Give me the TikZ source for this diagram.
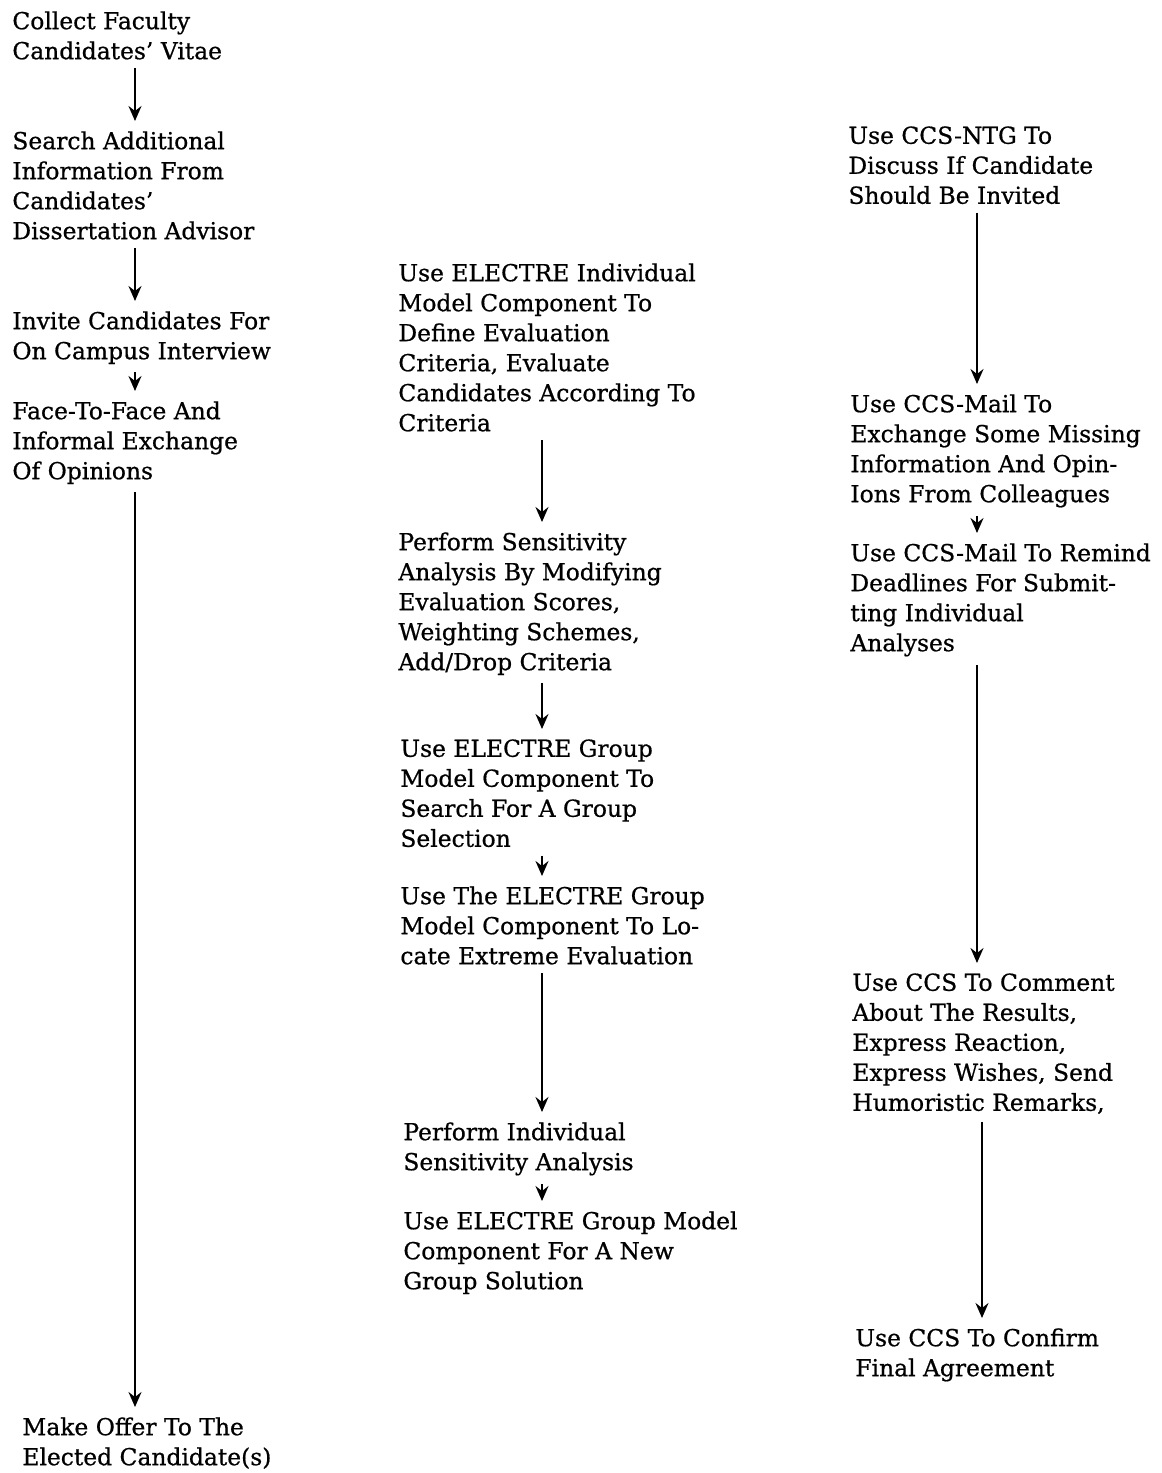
\documentclass[tikz,border=0pt]{standalone}
\usepackage{fontspec}
\setmainfont{DejaVu Serif}[FakeBold=0.7]
\usetikzlibrary{arrows.meta}
\begin{document}
\begin{tikzpicture}[x=0.5pt,y=-0.5pt,
  txt/.style={anchor=north west,align=left,inner sep=0pt,
    font=\fontsize{11.7pt}{15pt}\selectfont},
  arr/.style={line width=1pt,-{Stealth[length=7.5pt,width=6.5pt,inset=2.5pt]},
    shorten <=4pt, shorten >=5pt}]
\useasboundingbox (0,0) rectangle (1162,1473);
% column x positions
\coordinate (xa) at (135,0);
\coordinate (xb) at (542,0);
\coordinate (xc) at (977,0);
\coordinate (xd) at (982,0);
% column 1
\node[txt] (collect) at (12,11) {Collect Faculty\\Candidates' Vitae};
\node[txt] (search) at (12,131) {Search Additional\\Information From\\Candidates'\\Dissertation Advisor};
\node[txt] (invite) at (12,311) {Invite Candidates For\\On Campus Interview};
\node[txt] (face) at (12,401) {Face-To-Face And\\Informal Exchange\\Of Opinions};
\node[txt] (offer) at (22,1417) {Make Offer To The\\Elected Candidate(s)};
% column 2
\node[txt] (indiv) at (398,263) {Use ELECTRE Individual\\Model Component To\\Define Evaluation\\Criteria, Evaluate\\Candidates According To\\Criteria};
\node[txt] (sens) at (398,532) {Perform Sensitivity\\Analysis By Modifying\\Evaluation Scores,\\Weighting Schemes,\\Add/Drop Criteria};
\node[txt] (group) at (400,739) {Use ELECTRE Group\\Model Component To\\Search For A Group\\Selection};
\node[txt] (extreme) at (400,886) {Use The ELECTRE Group\\Model Component To Lo-\\cate Extreme Evaluation};
\node[txt] (isens) at (403,1122) {Perform Individual\\Sensitivity Analysis};
\node[txt] (newsol) at (403,1211) {Use ELECTRE Group Model\\Component For A New\\Group Solution};
% column 3
\node[txt] (ntg) at (848,126) {Use CCS-NTG To\\Discuss If Candidate\\Should Be Invited};
\node[txt] (mail) at (850,394) {Use CCS-Mail To\\Exchange Some Missing\\Information And Opin-\\Ions From Colleagues};
\node[txt] (remind) at (850,543) {Use CCS-Mail To Remind\\Deadlines For Submit-\\ting Individual\\Analyses};
\node[txt] (comment) at (852,973) {Use CCS To Comment\\About The Results,\\Express Reaction,\\Express Wishes, Send\\Humoristic Remarks,};
\node[txt] (confirm) at (855,1328) {Use CCS To Confirm\\Final Agreement};
% arrows
\draw[arr] (collect.south -| xa) -- (search.north -| xa);
\draw[arr] (search.south -| xa) -- (invite.north -| xa);
\draw[arr] (invite.south -| xa) -- (face.north -| xa);
\draw[arr] (face.south -| xa) -- (offer.north -| xa);
\draw[arr] (indiv.south -| xb) -- (sens.north -| xb);
\draw[arr] (sens.south -| xb) -- (group.north -| xb);
\draw[arr] (group.south -| xb) -- (extreme.north -| xb);
\draw[arr] (extreme.south -| xb) -- (isens.north -| xb);
\draw[arr] (isens.south -| xb) -- (newsol.north -| xb);
\draw[arr] (ntg.south -| xc) -- (mail.north -| xc);
\draw[arr] (mail.south -| xc) -- (remind.north -| xc);
\draw[arr] (remind.south -| xc) -- (comment.north -| xc);
\draw[arr] (comment.south -| xd) -- (confirm.north -| xd);
\end{tikzpicture}
\end{document}
